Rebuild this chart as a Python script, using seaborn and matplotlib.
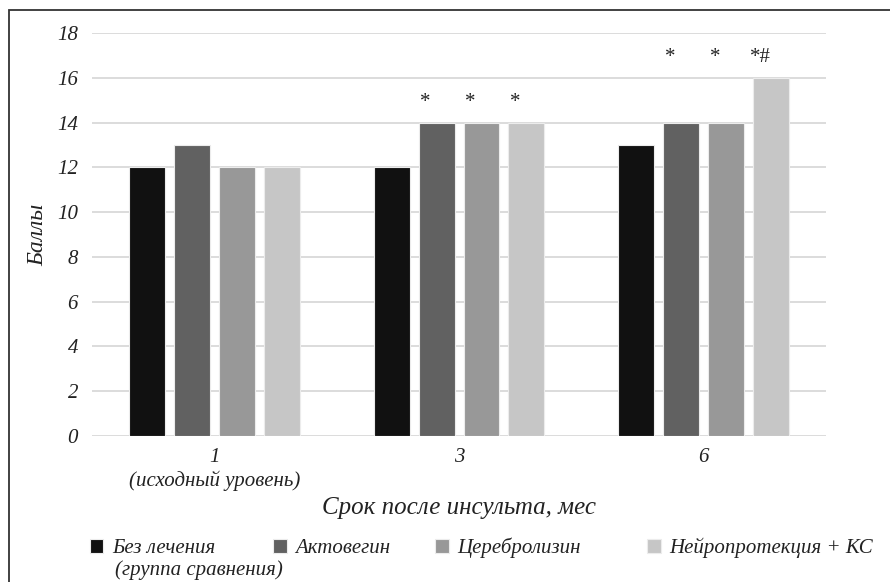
import matplotlib
matplotlib.use('Agg')
import matplotlib.pyplot as plt
import seaborn as sns
import pandas as pd
from matplotlib.patches import Patch, Rectangle

# Data
months = ['1\n(исходный уровень)', '3', '6']
groups = ['Без лечения', 'Актовегин', 'Церебролизин', 'Нейропротекция + КС']
no_treatment = [12, 12, 13]
actovegin = [13, 14, 14]
cerebrolysin = [12, 14, 14]
neuroprotection = [12, 14, 16]
marks_no_treatment = ['', '', '']
marks_actovegin = ['', '*', '*']
marks_cerebrolysin = ['', '*', '*']
marks_neuroprotection = ['', '*', '*#']
colors = ['#111111', '#616161', '#989898', '#c6c6c6']

values = [no_treatment, actovegin, cerebrolysin, neuroprotection]
marks = [marks_no_treatment, marks_actovegin, marks_cerebrolysin, marks_neuroprotection]

rows = []
for g, vals in zip(groups, values):
    for m, v in zip(months, vals):
        rows.append({'month': m, 'group': g, 'score': v})
df = pd.DataFrame(rows)

sns.set_style('white')
plt.rcParams['font.family'] = ['Liberation Serif', 'DejaVu Serif']
plt.rcParams['font.style'] = 'italic'

fig = plt.figure(figsize=(8.9, 5.82), dpi=100)
ax = fig.add_axes([0.1034, 0.2509, 0.8247, 0.6924])

sns.barplot(data=df, x='month', y='score', hue='group', order=months,
            hue_order=groups, palette=colors, width=0.735, gap=0.2,
            edgecolor='#ececec', linewidth=0.8, legend=False, ax=ax,
            zorder=3)

ax.set_ylim(0, 18)
ax.set_xlim(-0.5, 2.5)
ax.set_yticks(range(0, 19, 2))
ax.yaxis.grid(True, color='#d6d6d6', linewidth=1.2, zorder=0)
ax.set_axisbelow(True)
for s in ax.spines.values():
    s.set_visible(False)
ax.tick_params(axis='both', length=0, labelsize=15, colors='#222222')
ax.tick_params(axis='y', pad=10)
ax.tick_params(axis='x', pad=9)

ax.set_ylabel('Баллы', fontsize=17, color='#222222')
ax.yaxis.set_label_coords(-0.059, 0.5)
ax.set_xlabel('Срок после инсульта, мес', fontsize=18, color='#222222',
              labelpad=4)

# Significance marks above each group
for i, cont in enumerate(ax.containers):
    for j, bar in enumerate(cont):
        if marks[i][j]:
            top = max(v[j] for v in values) + 0.9
            ax.annotate(marks[i][j], (bar.get_x() + bar.get_width() / 2, top),
                        xytext=(-8, 0), textcoords='offset points',
                        ha='center', va='center', fontsize=15,
                        fontstyle='normal', color='#222222')

# Legend entries placed one by one like the original layout
legend_x = [0.101, 0.307, 0.489, 0.727]
for g, c, lx in zip(groups, colors, legend_x):
    h = Patch(facecolor=c, edgecolor='#ececec', linewidth=0.8)
    fig.legend([h], [g], loc='center left', bbox_to_anchor=(lx, 0.058),
               frameon=False, fontsize=15, handlelength=0.65,
               handleheight=0.65, handletextpad=0.4, borderpad=0,
               borderaxespad=0, labelcolor='#222222')
fig.text(0.129, 0.020, '(группа сравнения)', fontsize=15, color='#222222',
         va='center', ha='left')

# Outer frame
fig.patches.append(Rectangle((0.0101, -0.1), 1.2, 1.0828, transform=fig.transFigure,
                             fill=False, edgecolor='#333333', linewidth=1.3))

fig.savefig('out.png', dpi=100)
